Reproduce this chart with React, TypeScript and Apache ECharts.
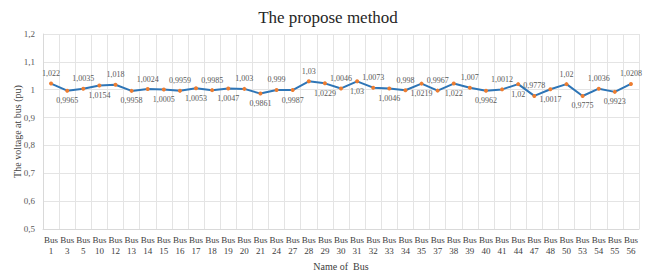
import React, { useEffect, useRef } from "react";
import * as echarts from "echarts";

const busNumbers = [1, 3, 5, 10, 12, 13, 14, 15, 16, 17, 18, 19, 20, 21, 24, 27, 28, 29, 30, 31, 32, 33, 34, 35, 37, 38, 39, 40, 41, 44, 47, 48, 50, 53, 54, 55, 56];
const voltages = [1.022, 0.9965, 1.0035, 1.0154, 1.018, 0.9958, 1.0024, 1.0005, 0.9959, 1.0053, 0.9985, 1.0047, 1.003, 0.9861, 0.999, 0.9987, 1.03, 1.0229, 1.0046, 1.03, 1.0073, 1.0046, 0.998, 1.0219, 0.9967, 1.022, 1.007, 0.9962, 1.0012, 1.02, 0.9778, 1.0017, 1.02, 0.9775, 1.0036, 0.9923, 1.0208];
const yTicks = { min: 0.5, max: 1.2, interval: 0.1 };

const SERIF = "Liberation Serif";

export default function App() {
  const ref = useRef<HTMLDivElement>(null);
  useEffect(() => {
    if (!ref.current) return;
    const chart = echarts.init(ref.current, null, { renderer: "svg" });
    const categories = busNumbers.map((n) => `Bus\n${n}`);
    const data = voltages.map((v, i) => ({
      value: v,
      label: { position: i % 2 === 0 ? "top" : "bottom" },
    }));
    chart.setOption({
      animation: false,
      backgroundColor: "#ffffff",
      title: {
        text: "The propose method",
        left: "center",
        top: 4,
        textStyle: { fontFamily: SERIF, fontSize: 17, fontWeight: "normal", color: "#262626" },
      },
      grid: { left: 43, right: 17, top: 34, bottom: 42 },
      xAxis: {
        type: "category",
        data: categories,
        boundaryGap: true,
        name: "Name of  Bus",
        nameLocation: "middle",
        nameGap: 32,
        nameTextStyle: { fontFamily: SERIF, fontSize: 10, color: "#404040" },
        axisLine: { show: true, lineStyle: { color: "#d9d9d9" } },
        axisTick: { show: false },
        axisLabel: {
          interval: 0,
          fontFamily: SERIF,
          fontSize: 9,
          lineHeight: 11,
          color: "#404040",
          margin: 5,
        },
        splitLine: { show: true, interval: 0, lineStyle: { color: "#e4e4e4" } },
      },
      yAxis: {
        type: "value",
        min: yTicks.min,
        max: yTicks.max,
        interval: yTicks.interval,
        name: "The voltage at bus (pu)",
        nameLocation: "middle",
        nameRotate: 90,
        nameGap: 21,
        nameMoveOverlap: false,
        nameTextStyle: { fontFamily: SERIF, fontSize: 10, color: "#404040" },
        axisLine: { show: true, lineStyle: { color: "#d9d9d9" } },
        axisTick: { show: false },
        axisLabel: {
          fontFamily: SERIF,
          fontSize: 9,
          color: "#595959",
          margin: 8,
          formatter: (v: number) => String(Number(v.toFixed(1))).replace(".", ","),
        },
        splitLine: { show: true, lineStyle: { color: "#e4e4e4" } },
      },
      series: [
        {
          type: "line",
          data,
          symbol: "circle",
          symbolSize: 4,
          lineStyle: { color: "#2e75b6", width: 2 },
          itemStyle: { color: "#ed7d31" },
          label: {
            show: true,
            fontFamily: SERIF,
            fontSize: 8,
            color: "#595959",
            distance: 4,
            formatter: (p: any) => String(p.value).replace(".", ","),
          },
        },
      ],
    });
    return () => chart.dispose();
  }, []);
  return <div ref={ref} style={{ position: "fixed", left: 0, top: 0, width: 656, height: 276 }} />;
}
